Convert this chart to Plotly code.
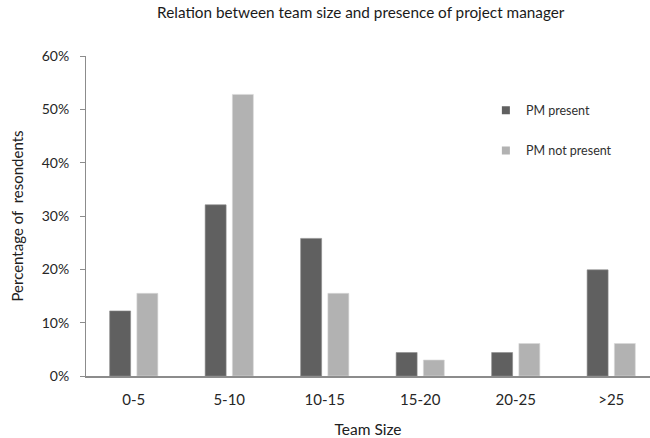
import plotly.graph_objects as go

# Survey responses by team size (share of respondents)
team_sizes = ["0-5", "5-10", "10-15", "15-20", "20-25", ">25"]
pm_present = [0.122, 0.321, 0.258, 0.044, 0.044, 0.199]
pm_not_present = [0.155, 0.528, 0.155, 0.030, 0.061, 0.061]

series = [
    ("PM present", pm_present, "#606060", "#8a8a8a"),
    ("PM not present", pm_not_present, "#b2b2b2", "#d8d8d8"),
]

FONT = "Lato"

fig = go.Figure()
for name, values, fill, edge in series:
    fig.add_trace(go.Bar(
        name=name, x=team_sizes, y=values, legendgroup=name, showlegend=False,
        marker=dict(color=fill, line=dict(color=edge, width=0.6)),
    ))
    # small square swatch for the legend entry
    fig.add_trace(go.Scatter(
        name=name, x=[None], y=[None], mode="markers", legendgroup=name,
        marker=dict(symbol="square", size=8, color=fill),
    ))

fig.update_layout(
    width=650, height=438,
    margin=dict(l=86, r=0, t=56, b=62),
    paper_bgcolor="white", plot_bgcolor="white",
    barmode="group", bargap=0.43, bargroupgap=0.23,
    font=dict(family=FONT, size=14, color="#303030"),
    title=dict(
        text="Relation between team size and presence of project manager",
        x=0.555, xanchor="center", y=0.97, yanchor="middle",
        font=dict(family=FONT, size=15.3, color="#1a1a1a"),
    ),
    legend=dict(
        x=0.709, y=0.876, xanchor="left", yanchor="top",
        bgcolor="rgba(0,0,0,0)", traceorder="grouped", tracegroupgap=21,
        font=dict(family=FONT, size=12.5, color="#303030"),
    ),
    showlegend=True,
)

fig.update_xaxes(
    range=[-0.5, 5.406], showline=True, linecolor="#8c8c8c", linewidth=1.5,
    ticks="", showgrid=False, zeroline=False, ticklabelstandoff=9,
    title=dict(text="Team Size", standoff=17, font=dict(family=FONT, size=15.5, color="#202020")),
    tickfont=dict(family=FONT, size=15, color="#262626"),
)
fig.update_yaxes(
    range=[0, 0.6], dtick=0.1, tickformat=".0%",
    showline=True, linecolor="#8c8c8c", linewidth=1,
    ticks="outside", ticklen=5, tickcolor="#8c8c8c", ticklabelstandoff=8,
    showgrid=False, zeroline=False,
    title=dict(text="Percentage of  resondents", standoff=14,
               font=dict(family=FONT, size=15, color="#202020")),
    tickfont=dict(family=FONT, size=14, color="#262626"),
)

fig.write_html("out.html")
